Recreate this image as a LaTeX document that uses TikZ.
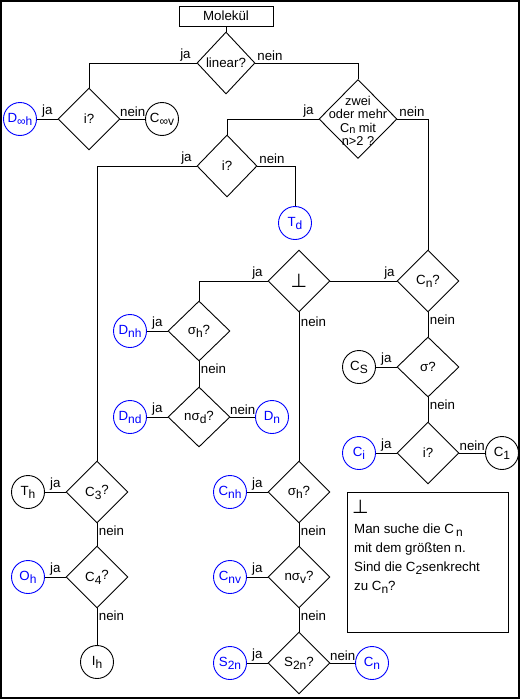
\documentclass[tikz,border=0pt]{standalone}
\usepackage{fontspec}
\setmainfont{Liberation Sans}
\newfontfamily\dejavu{DejaVu Sans}
\usetikzlibrary{shapes.geometric}
\newcommand\sub[1]{\raisebox{-3pt}{\fontsize{12}{12}\selectfont #1}}
\newcommand\smsub[1]{\raisebox{-1.5pt}{\fontsize{11}{11}\selectfont #1}}
\newcommand\perpsym{{\dejavu\fontsize{19}{19}\selectfont ⊥}}
\begin{document}
\begin{tikzpicture}[x=1pt,y=-1pt,
  every node/.style={font=\fontsize{13.3}{14}\selectfont},
  dia/.style={draw, diamond, inner sep=0pt, minimum width=62pt, minimum height=62pt, line width=0.9pt},
  res/.style={draw, circle, minimum size=33pt, inner sep=0pt, line width=0.9pt},
  blu/.style={res, draw=blue, text=blue},
  lbl/.style={inner sep=1.5pt},
  con/.style={line width=0.9pt}]
\useasboundingbox (0,0) rectangle (520,699);
\draw[line width=2pt] (1,1) rectangle (518.5,697.5);

% nodes
\node[draw, line width=0.9pt, minimum width=94pt, minimum height=20pt, inner sep=0pt] (mol) at (226,16) {Molekül};
\node[dia, minimum width=58pt] (lin) at (226,63) {linear?};
\node[dia] (i1) at (89,119) {i?};
\node[blu] (dinfh) at (20,119) {D\sub{∞h}};
\node[res] (cinfv) at (162,119) {C\sub{∞v}};
\node[dia, minimum width=78pt, minimum height=79pt] (zwei) at (358,119) {};
\node[align=center, font=\fontsize{12.8}{13.5}\selectfont] (zweitxt) at (358,121) {zwei\\oder mehr\\C\smsub{n} mit\\n>2 ?};
\node[dia, minimum width=60pt] (i2) at (227,166) {i?};
\node[blu] (td) at (295,223) {T\sub{d}};
\node[dia] (perp) at (299,281) {\perpsym};
\node[dia] (cnq) at (428,281) {C\sub{n}?};
\node[dia, minimum height=60pt] (sh1) at (199,331) {σ\sub{h}?};
\node[blu] (dnh) at (130,331) {D\sub{nh}};
\node[dia, minimum height=60pt] (nsd) at (199,417) {nσ\sub{d}?};
\node[blu] (dnd) at (130,417) {D\sub{nd}};
\node[blu] (dn) at (272,417) {D\sub{n}};
\node[dia, minimum height=60pt] (sig) at (428,367) {σ?};
\node[res] (cs) at (359,367) {C\sub{S}};
\node[dia] (i3) at (428,453) {i?};
\node[blu] (ci) at (359,453) {C\sub{i}};
\node[res] (c1) at (502,453) {C\sub{1}};
\node[dia] (c3) at (97,492) {C\sub{3}\raisebox{2pt}{?}};
\node[res] (th) at (28,492) {T\sub{h}};
\node[dia] (c4) at (97,577) {C\sub{4}\raisebox{2pt}{?}};
\node[blu] (oh) at (28,577) {O\sub{h}};
\node[res] (ih) at (97,662) {I\sub{h}};
\node[dia] (sh2) at (299,492) {σ\sub{h}?};
\node[blu] (cnh) at (230,492) {C\sub{nh}};
\node[dia] (nsv) at (299,577) {nσ\sub{v}?};
\node[blu] (cnv) at (230,577) {C\sub{nv}};
\node[dia] (s2n) at (299,663) {S\sub{2n}?};
\node[blu] (s2nc) at (230,663) {S\sub{2n}};
\node[blu] (cn) at (372,663) {C\sub{n}};

% legend
\node[draw, line width=0.9pt, minimum width=161pt, minimum height=140pt, inner sep=0pt] (leg) at (427.5,562) {};
\node[anchor=north west, inner sep=0pt] (legsym) at (352,500) {\perpsym};
\node[anchor=north west, inner sep=0pt, align=left, font=\fontsize{13.3}{19}\selectfont] (legtxt) at (354,524)
  {Man suche die C\,\sub{n}\\mit dem größten n.\\Sind die C\sub{2}senkrecht\\zu C\sub{n}?};

% connectors
\draw[con] (mol.south) -- (lin.north);
\draw[con] (lin.west) -| (i1.north) node[lbl, pos=0, above left, xshift=-4pt] {ja};
\draw[con] (lin.east) -| (zwei.north) node[lbl, pos=0, above right] {nein};
\draw[con] (i1.west) -- node[lbl, above] {ja} (dinfh);
\draw[con] (i1.east) -- node[lbl, above] {nein} (cinfv);
\draw[con] (zwei.west) -| (i2.north) node[lbl, pos=0, above left, xshift=-3pt] {ja};
\draw[con] (zwei.east) -| (cnq.north) node[lbl, pos=0, above right] {nein};
\draw[con] (i2.west) -| (c3.north) node[lbl, pos=0, above left, xshift=-3pt] {ja};
\draw[con] (i2.east) -| (td.north) node[lbl, pos=0, above right] {nein};
\draw[con] (perp.west) -| (sh1.north) node[lbl, pos=0, above left, xshift=-3pt] {ja};
\draw[con] (perp.east) -- (cnq.west) node[lbl, pos=1, above left] {ja};
\draw[con] (perp.south) -- (sh2.north) node[lbl, pos=0, below right, yshift=-2pt] {nein};
\draw[con] (cnq.south) -- (sig.north) node[lbl, pos=0, below right] {nein};
\draw[con] (sh1.west) -- node[lbl, above] {ja} (dnh);
\draw[con] (sh1.south) -- (nsd.north) node[lbl, pos=0, below right] {nein};
\draw[con] (nsd.west) -- node[lbl, above] {ja} (dnd);
\draw[con] (nsd.east) -- node[lbl, above] {nein} (dn);
\draw[con] (sig.west) -- node[lbl, above] {ja} (cs);
\draw[con] (sig.south) -- (i3.north) node[lbl, pos=0, below right] {nein};
\draw[con] (i3.west) -- node[lbl, above] {ja} (ci);
\draw[con] (i3.east) -- node[lbl, above] {nein} (c1);
\draw[con] (c3.west) -- node[lbl, above] {ja} (th);
\draw[con] (c3.south) -- (c4.north) node[lbl, pos=0, below right] {nein};
\draw[con] (c4.west) -- node[lbl, above] {ja} (oh);
\draw[con] (c4.south) -- (ih.north) node[lbl, pos=0, below right] {nein};
\draw[con] (sh2.west) -- node[lbl, above] {ja} (cnh);
\draw[con] (sh2.south) -- (nsv.north) node[lbl, pos=0, below right] {nein};
\draw[con] (nsv.west) -- node[lbl, above] {ja} (cnv);
\draw[con] (nsv.south) -- (s2n.north) node[lbl, pos=0, below right] {nein};
\draw[con] (s2n.west) -- node[lbl, above] {ja} (s2nc);
\draw[con] (s2n.east) -- node[lbl, above] {nein} (cn);
\end{tikzpicture}
\end{document}
